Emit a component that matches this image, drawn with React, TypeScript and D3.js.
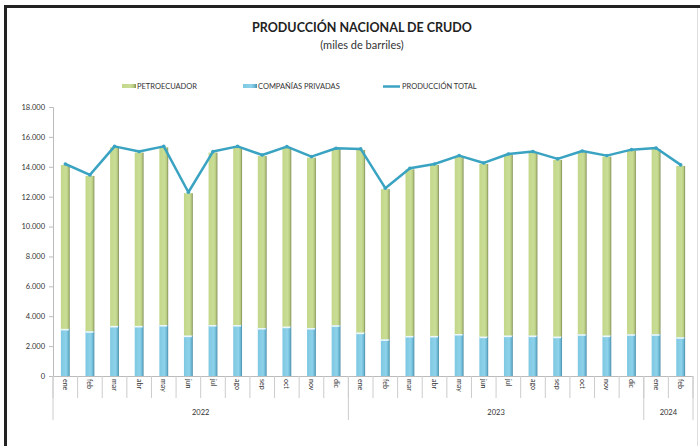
import { useEffect, useRef } from "react";
import * as d3 from "d3";

const months = ["ene", "feb", "mar", "abr", "may", "jun", "jul", "ago", "sep", "oct", "nov", "dic", "ene", "feb", "mar", "abr", "may", "jun", "jul", "ago", "sep", "oct", "nov", "dic", "ene", "feb"];
const years = [
  { label: "2022", count: 12 },
  { label: "2023", count: 12 },
  { label: "2024", count: 2 },
];
// miles de barriles
const privadas = [3150, 2990, 3350, 3350, 3410, 2700, 3410, 3410, 3210, 3300, 3210, 3390, 2900, 2450, 2680, 2680, 2810, 2630, 2700, 2700, 2630, 2790, 2700, 2790, 2790, 2590];
const petroecuador = [10970, 10400, 11950, 11600, 11890, 9530, 11540, 11890, 11510, 11980, 11400, 11780, 12230, 10050, 11150, 11440, 11870, 11560, 12090, 12250, 11830, 12200, 11980, 12290, 12400, 11470];
const yTicks = [0, 2000, 4000, 6000, 8000, 10000, 12000, 14000, 16000, 18000];

const W = 700;
const H = 446;
const FONT = "Lato, 'Open Sans', sans-serif";

export default function App() {
  const ref = useRef<SVGSVGElement>(null);

  useEffect(() => {
    const svg = d3.select(ref.current);
    svg.selectAll("*").remove();

    const left = 53, right = 693, top = 107, bottom = 376;
    const idx = months.map((_, i) => i);
    const total = idx.map((i) => privadas[i] + petroecuador[i]);

    const x = d3.scaleBand<number>().domain(idx).range([left, right]).paddingInner(0.64).paddingOuter(0.32);
    const step = x.step();
    const y = d3.scaleLinear().domain([0, 18000]).range([bottom, top]);

    const defs = svg.append("defs");
    const grad = (id: string, stops: [number, string][]) => {
      const g = defs.append("linearGradient").attr("id", id).attr("x1", 0).attr("x2", 1).attr("y1", 0).attr("y2", 0);
      stops.forEach(([o, c]) => g.append("stop").attr("offset", o).attr("stop-color", c));
    };
    grad("gGreen", [[0, "#c3d78a"], [0.6, "#cadd96"], [0.82, "#b8cb80"], [1, "#7f8d58"]]);
    grad("gBlue", [[0, "#7fc8e2"], [0.6, "#8dd2ea"], [0.82, "#6db9d6"], [1, "#4e8ea6"]]);

    // frame
    svg.append("rect").attr("width", W).attr("height", H).attr("fill", "#fff");
    svg.append("line").attr("x1", 4).attr("x2", W).attr("y1", 6.5).attr("y2", 6.5).attr("stroke", "#222").attr("stroke-width", 3);
    svg.append("line").attr("x1", 5.5).attr("x2", 5.5).attr("y1", 5).attr("y2", H).attr("stroke", "#222").attr("stroke-width", 3);
    svg.append("line").attr("x1", 697.5).attr("x2", 697.5).attr("y1", 8).attr("y2", H).attr("stroke", "#ddd").attr("stroke-width", 1);

    // titles
    svg.append("text").attr("x", 362).attr("y", 32).attr("text-anchor", "middle")
      .attr("font-family", FONT).attr("font-weight", 700).attr("font-size", 12.5).attr("fill", "#222")
      .text("PRODUCCIÓN NACIONAL DE CRUDO");
    svg.append("text").attr("x", 362).attr("y", 49).attr("text-anchor", "middle")
      .attr("font-family", FONT).attr("font-size", 11).attr("fill", "#333")
      .text("(miles de barriles)");

    // legend
    const lg = svg.append("g").attr("font-family", FONT).attr("font-size", 7.5).attr("fill", "#333");
    lg.append("rect").attr("x", 122).attr("y", 84).attr("width", 14).attr("height", 4).attr("fill", "url(#gGreen)");
    lg.append("text").attr("x", 137).attr("y", 89).text("PETROECUADOR");
    lg.append("rect").attr("x", 243).attr("y", 84).attr("width", 14).attr("height", 4).attr("fill", "url(#gBlue)");
    lg.append("text").attr("x", 258).attr("y", 89).text("COMPAÑÍAS PRIVADAS");
    lg.append("line").attr("x1", 383).attr("x2", 400).attr("y1", 86.5).attr("y2", 86.5).attr("stroke", "#3aa3c2").attr("stroke-width", 2.5);
    lg.append("text").attr("x", 402).attr("y", 89).text("PRODUCCIÓN TOTAL");

    // y axis
    const ya = svg.append("g").attr("transform", `translate(${left},0)`)
      .call(d3.axisLeft(y).tickValues(yTicks).tickSize(4).tickFormat((d) => d3.format(",")(d as number).replace(/,/g, ".")));
    ya.select(".domain").attr("stroke", "#bbb");
    ya.selectAll(".tick line").attr("stroke", "#bbb");
    ya.selectAll(".tick text").attr("font-family", FONT).attr("font-size", 7.5).attr("fill", "#333").attr("x", -8);

    // x axis baseline
    svg.append("line").attr("x1", left).attr("x2", right).attr("y1", bottom + 0.5).attr("y2", bottom + 0.5).attr("stroke", "#bbb");

    // bars
    const bars = svg.append("g");
    bars.selectAll("rect.priv").data(idx).join("rect").attr("class", "priv")
      .attr("x", (i) => x(i)!).attr("width", x.bandwidth())
      .attr("y", (i) => y(privadas[i])).attr("height", (i) => bottom - y(privadas[i]))
      .attr("fill", "url(#gBlue)");
    bars.selectAll("rect.petro").data(idx).join("rect").attr("class", "petro")
      .attr("x", (i) => x(i)!).attr("width", x.bandwidth())
      .attr("y", (i) => y(total[i])).attr("height", (i) => y(privadas[i]) - y(total[i]))
      .attr("fill", "url(#gGreen)");
    bars.selectAll("rect.hl").data(idx).join("rect").attr("class", "hl")
      .attr("x", (i) => x(i)!).attr("width", x.bandwidth() - 1)
      .attr("y", (i) => y(privadas[i])).attr("height", 1.5)
      .attr("fill", "#eef8fb");

    // total line
    const line = d3.line<number>().x((i) => x(i)! + x.bandwidth() / 2).y((i) => y(total[i]) - 1);
    svg.append("path").datum(idx).attr("d", line).attr("fill", "none")
      .attr("stroke", "#3aa3c2").attr("stroke-width", 2.5).attr("stroke-linejoin", "round");
    svg.append("g").selectAll("circle").data(idx).join("circle")
      .attr("cx", (i) => x(i)! + x.bandwidth() / 2).attr("cy", (i) => y(total[i]) - 1).attr("r", 1.8)
      .attr("fill", "#3aa3c2");

    // month labels and separators
    const xa = svg.append("g");
    xa.selectAll("line").data(d3.range(months.length + 1)).join("line")
      .attr("x1", (i) => left + i * step).attr("x2", (i) => left + i * step)
      .attr("y1", bottom).attr("y2", bottom + 22)
      .attr("stroke", "#ccc");
    xa.selectAll("text").data(idx).join("text")
      .attr("transform", (i) => `translate(${x(i)! + x.bandwidth() / 2 - 2.5},${bottom + 3}) rotate(90)`)
      .attr("font-family", FONT).attr("font-size", 7).attr("fill", "#333")
      .text((i) => months[i]);

    // year groups
    let start = 0;
    const yg = svg.append("g");
    years.forEach((g) => {
      const x0 = left + start * step;
      const x1 = left + (start + g.count) * step;
      yg.append("line").attr("x1", x0).attr("x2", x0).attr("y1", bottom).attr("y2", bottom + 44).attr("stroke", "#ccc");
      yg.append("text").attr("x", (x0 + x1) / 2).attr("y", bottom + 39).attr("text-anchor", "middle")
        .attr("font-family", FONT).attr("font-size", 7.5).attr("fill", "#333").text(g.label);
      start += g.count;
    });
    yg.append("line").attr("x1", right).attr("x2", right).attr("y1", bottom).attr("y2", bottom + 44).attr("stroke", "#ccc");
  }, []);

  return <svg ref={ref} width={W} height={H} style={{ position: "absolute", left: 0, top: 0 }}></svg>;
}
